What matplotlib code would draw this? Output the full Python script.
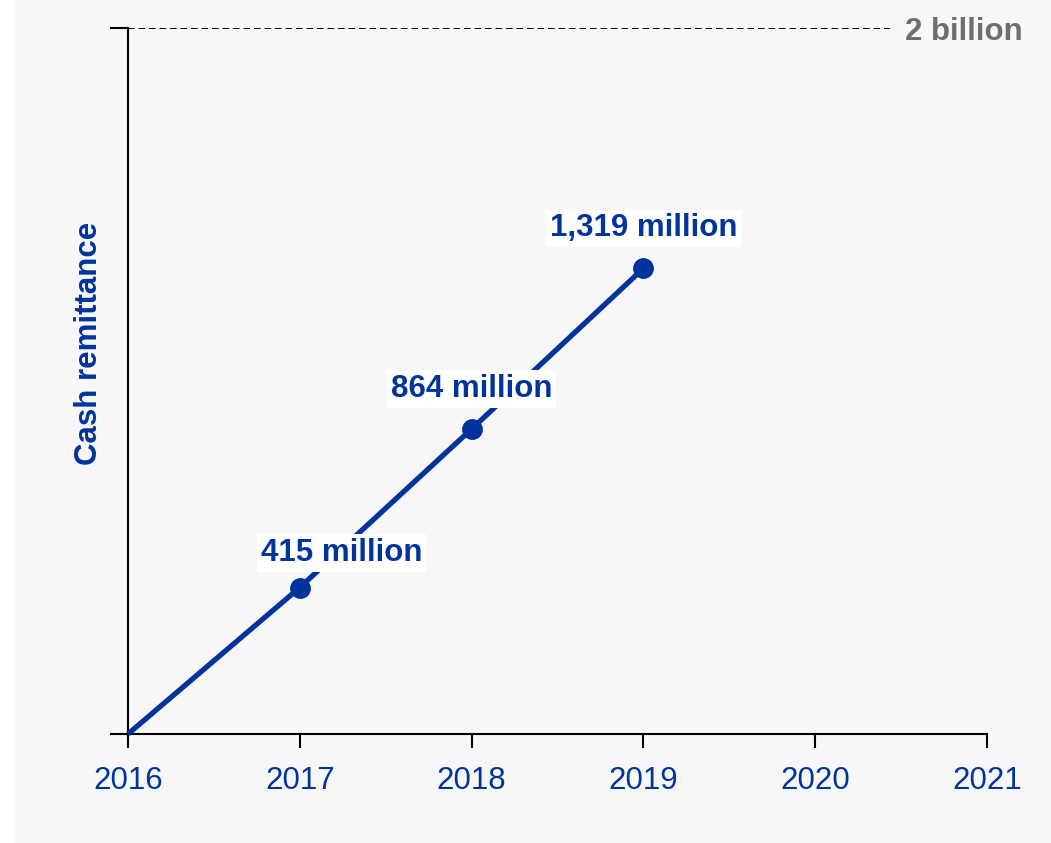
import matplotlib.pyplot as plt
from matplotlib.patches import Rectangle

plt.rcParams['font.family'] = ['Liberation Sans', 'DejaVu Sans']

years = [2016, 2017, 2018, 2019]
remit = [0, 415, 864, 1319]          # million
point_labels = ['415 million', '864 million', '1,319 million']
label_dx = [30, 0, 0]                # points, shift to keep text off the line
label_dy = [14, 18, 18]
xticks = [2016, 2017, 2018, 2019, 2020, 2021]
target = 2000

blue = '#00349c'
bg = '#f7f7f7'

fig = plt.figure(figsize=(10.51, 8.43), dpi=100, facecolor='white')
fig.patches.append(Rectangle((14 / 1051, 0), 1, 1, transform=fig.transFigure,
                             facecolor=bg, edgecolor='none', zorder=-10))
ax = fig.add_axes([128 / 1051, 1 - 734 / 843, 859 / 1051, 706 / 843])
ax.set_facecolor(bg)

ax.plot(years, remit, color=blue, lw=3.8, solid_capstyle='butt', clip_on=False, zorder=3)
ax.plot(years[1:], remit[1:], 'o', color=blue, ms=14, zorder=4)

for x, y, s, dx, dy in zip(years[1:], remit[1:], point_labels, label_dx, label_dy):
    ax.annotate(s, (x, y), xytext=(dx, dy), textcoords='offset points',
                ha='center', va='bottom', fontsize=22.5, fontweight='bold', color=blue,
                bbox=dict(boxstyle='square,pad=0.12', facecolor='white', edgecolor='none'),
                zorder=5)

ax.axhline(target, xmin=0, xmax=(890 - 128) / 859, color='black', lw=1.4, ls=(0, (3.4, 2)))
ax.text(1 + (905 - 987) / 859, target, '2 billion', transform=ax.get_yaxis_transform(),
        ha='left', va='center_baseline', fontsize=22.5, fontweight='bold', color='#6e6e6e')

ax.set_xlim(2016, 2021)
ax.set_ylim(0, target)
ax.set_xticks(xticks)
ax.set_xticklabels([str(t) for t in xticks], fontsize=22.5, color=blue)
ax.set_yticks([0, target])
ax.set_yticklabels([])
ax.tick_params(axis='x', length=10, width=1.5, direction='out', pad=13)
ax.tick_params(axis='y', length=13, width=1.5, direction='out')
ax.set_ylabel('Cash remittance', fontsize=22.5, fontweight='bold', color=blue)
ax.yaxis.set_label_coords((104 - 128) / 859, (734 - 343) / 706)

for side in ['top', 'right']:
    ax.spines[side].set_visible(False)
for side in ['left', 'bottom']:
    ax.spines[side].set_linewidth(1.5)

fig.savefig('out.png', dpi=100, facecolor=fig.get_facecolor())
